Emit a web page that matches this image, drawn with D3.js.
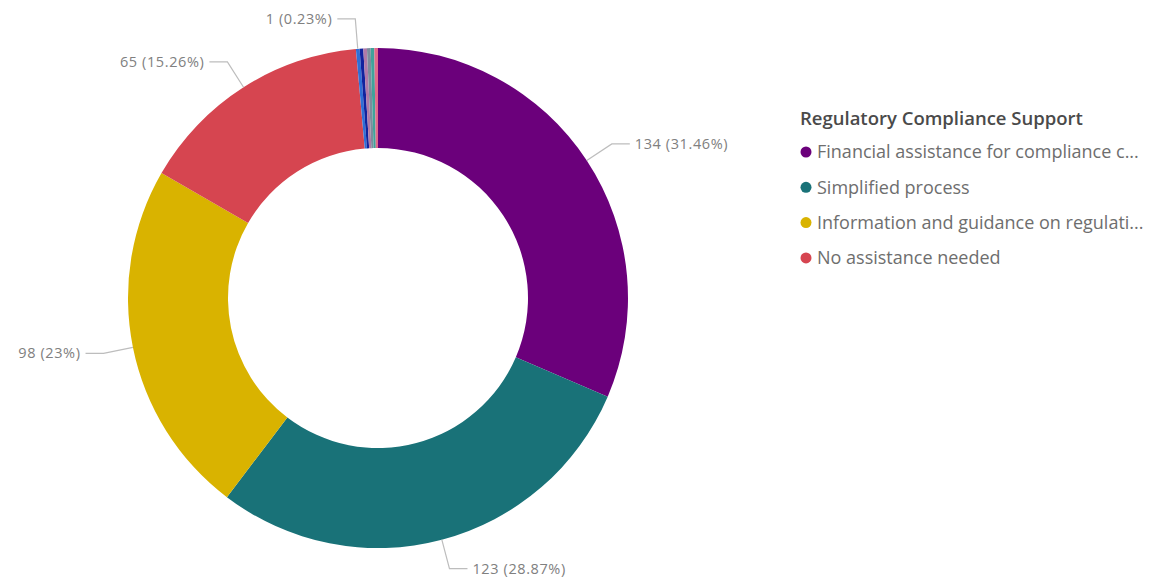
<!DOCTYPE html>
<html>
<head>
<meta charset="utf-8">
<script src="https://cdn.jsdelivr.net/npm/d3@7"></script>
<style>
  html, body { margin: 0; padding: 0; background: #ffffff; }
  svg { display: block; }
</style>
</head>
<body>
<svg id="chart" width="1152" height="582"></svg>
<script>
// Survey answers: what kind of regulatory compliance support is wanted
const categories = [
  "Financial assistance for compliance costs",
  "Simplified process",
  "Information and guidance on regulations",
  "No assistance needed",
  "Training and workshops",
  "Dedicated advisor",
  "Online tools",
  "Tax incentives",
  "Industry networks",
  "Other"
];
const counts = [134, 123, 98, 65, 1, 1, 1, 1, 1, 1];
const colors = ["#6B007B", "#197278", "#D9B300", "#D64550",
                "#2F6FD6", "#12239E", "#B07AA8", "#7C8C9C", "#3FA39A", "#E06A8A"];
const legendLabels = [
  "Financial assistance for compliance c...",
  "Simplified process",
  "Information and guidance on regulati...",
  "No assistance needed"
];
const legendTitle = "Regulatory Compliance Support";
const labelledSlices = 5;

const svg = d3.select("#chart");
const cx = 378, cy = 298;
const outerR = 250, innerR = 150, elbowR = 280;

const total = d3.sum(counts);
const data = categories.map((c, i) => ({ name: c, value: counts[i], color: colors[i], index: i }));

const pie = d3.pie().value(d => d.value).sort(null);
const arcs = pie(data);
const arc = d3.arc().innerRadius(innerR).outerRadius(outerR);

const g = svg.append("g").attr("transform", `translate(${cx},${cy})`);

g.selectAll("path.slice")
  .data(arcs)
  .join("path")
  .attr("class", "slice")
  .attr("d", arc)
  .attr("fill", d => d.data.color);

// Leader lines and value labels
const pct = v => {
  const p = +(v / total * 100).toFixed(2);
  return `${v} (${p}%)`;
};
const polar = (r, a) => [r * Math.sin(a), -r * Math.cos(a)];

const labels = g.append("g");
arcs.slice(0, labelledSlices).forEach(d => {
  const a = (d.startAngle + d.endAngle) / 2;
  const p0 = polar(outerR, a);
  const p1 = polar(elbowR, a);
  const right = Math.sin(a) >= 0;
  const p2 = [p1[0] + (right ? 18 : -18), p1[1]];
  labels.append("polyline")
    .attr("points", [p0, p1, p2].map(p => p.join(",")).join(" "))
    .attr("fill", "none")
    .attr("stroke", "#bdbdbd")
    .attr("stroke-width", 1.2);
  labels.append("text")
    .attr("x", p2[0] + (right ? 5 : -5))
    .attr("y", p2[1])
    .attr("dy", "0.35em")
    .attr("text-anchor", right ? "start" : "end")
    .attr("font-family", "'Open Sans', 'Noto Sans', sans-serif")
    .attr("font-size", 14.5)
    .attr("letter-spacing", 0.6)
    .attr("fill", "#808080")
    .text(pct(d.data.value));
});

// Legend
const legend = svg.append("g").attr("transform", "translate(800,119)");
legend.append("text")
  .attr("x", 0).attr("y", 0).attr("dy", "0.35em")
  .attr("font-family", "'Open Sans', 'Noto Sans', sans-serif")
  .attr("font-size", 18.5)
  .attr("font-weight", 600)
  .attr("fill", "#4a4a4a")
  .text(legendTitle);

const items = legend.selectAll("g.item")
  .data(legendLabels)
  .join("g")
  .attr("class", "item")
  .attr("transform", (d, i) => `translate(0,${33 + i * 35.3})`);
items.append("circle")
  .attr("cx", 6).attr("cy", 0).attr("r", 5.5)
  .attr("fill", (d, i) => colors[i]);
items.append("text")
  .attr("x", 17).attr("y", 0).attr("dy", "0.35em")
  .attr("font-family", "'Open Sans', 'Noto Sans', sans-serif")
  .attr("font-size", 18)
  .attr("fill", "#6e6e6e")
  .text(d => d);
</script>
</body>
</html>
